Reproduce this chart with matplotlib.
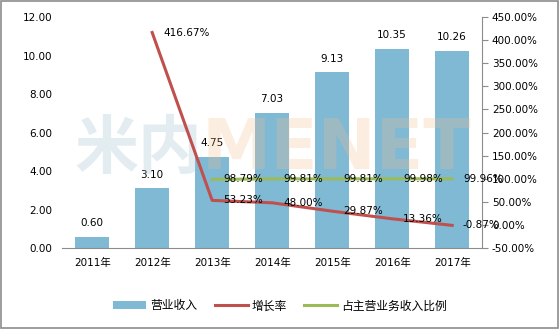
import matplotlib.pyplot as plt
from matplotlib.patches import Rectangle

plt.rcParams['font.family'] = ['DejaVu Sans', 'Noto Sans CJK SC']

years = ["2011年", "2012年", "2013年", "2014年", "2015年", "2016年", "2017年"]
revenue = [0.60, 3.10, 4.75, 7.03, 9.13, 10.35, 10.26]
growth = [None, 416.67, 53.23, 48.00, 29.87, 13.36, -0.87]
share = [None, None, 98.79, 99.81, 99.81, 99.98, 99.96]

bar_color = "#7FB9D4"
red = "#C0504D"
green = "#9BBB59"

fig = plt.figure(figsize=(5.6, 3.29), dpi=100)
fig.patches.append(Rectangle((0.002, 0.003), 0.995, 0.993, transform=fig.transFigure,
                             fill=False, edgecolor="#8C8C8C", linewidth=1.2))
ax = fig.add_axes([0.111, 0.246, 0.75, 0.702])
ax2 = ax.twinx()

x = list(range(len(years)))
ax.bar(x, revenue, width=0.57, color=bar_color, label="营业收入", zorder=2)
for xi, v in zip(x, revenue):
    ax.text(xi, v + 0.45, f"{v:.2f}", ha="center", va="bottom", fontsize=7.5)

ax.set_ylim(0, 12)
ax.set_yticks([0, 2, 4, 6, 8, 10, 12])
ax.set_yticklabels([f"{v:.2f}" for v in [0, 2, 4, 6, 8, 10, 12]], fontsize=7.5)
ax.set_xlim(-0.5, 6.5)
ax.set_xticks(x)
ax.set_xticklabels(years, fontsize=7.5)
ax.tick_params(axis="both", length=0, pad=7)
for s in ["top", "right", "left"]:
    ax.spines[s].set_visible(False)
ax.spines["bottom"].set_color("#8C8C8C")

# faint watermark, over the bars but under the lines
ax2.text(0.133, 0.545, "米内", transform=fig.transFigure, fontsize=46, color="#9DBBD0",
         alpha=0.28, fontweight="bold", va="center", zorder=2.5)
ax2.text(0.36, 0.545, "MENET", transform=fig.transFigure, fontsize=50, color="#F7B98A",
         alpha=0.25, fontweight="bold", va="center", zorder=2.5)

gx = [xi for xi, g in zip(x, growth) if g is not None]
gv = [g for g in growth if g is not None]
sx = [xi for xi, s in zip(x, share) if s is not None]
sv = [s for s in share if s is not None]
ax2.plot(sx, sv, color=green, linewidth=2.2, label="占主营业务收入比例", zorder=3)
ax2.plot(gx, gv, color=red, linewidth=2.2, label="增长率", zorder=3)
for xi, v in zip(gx, gv):
    ax2.text(xi + 0.18, v, f"{v:.2f}%", ha="left", va="center", fontsize=7.5, zorder=4)
for xi, v in zip(sx, sv):
    ax2.text(xi + 0.18, v, f"{v:.2f}%", ha="left", va="center", fontsize=7.5, zorder=4)

ax2.set_ylim(-50, 450)
yt = list(range(-50, 451, 50))
ax2.set_yticks(yt)
ax2.set_yticklabels([f"{v:.2f}%" for v in yt], fontsize=7.5)
ax2.tick_params(axis="y", length=4, color="#8C8C8C", pad=3)
for s in ["top", "left", "bottom"]:
    ax2.spines[s].set_visible(False)
ax2.spines["right"].set_color("#8C8C8C")

h1, l1 = ax.get_legend_handles_labels()
h2, l2 = ax2.get_legend_handles_labels()
handles = [h1[0], h2[1], h2[0]]
labels = [l1[0], l2[1], l2[0]]
fig.legend(handles, labels, loc="center", bbox_to_anchor=(0.5, 0.07), ncol=3,
           frameon=False, handlelength=2.8, columnspacing=1.5,
           handletextpad=0.3, prop={'family': ['Noto Sans CJK SC'], 'size': 8.5})

fig.savefig("out.png", dpi=100)
